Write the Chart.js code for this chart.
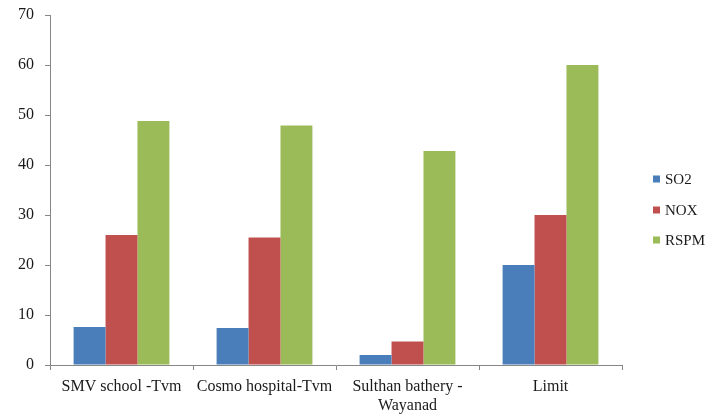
<!DOCTYPE html>
<html>
<head>
<meta charset="utf-8">
<script src="https://cdn.jsdelivr.net/npm/chart.js@4/dist/chart.umd.min.js"></script>
<style>
  html, body { margin: 0; padding: 0; background: #ffffff; }
  #wrap { width: 706px; height: 416px; }
</style>
</head>
<body>
<div id="wrap"><canvas id="c" width="706" height="416"></canvas></div>
<script>
// Sampling sites and measured concentrations
const sites = ['SMV school -Tvm', 'Cosmo hospital-Tvm', ['Sulthan bathery -', 'Wayanad'], 'Limit'];
const so2  = [7.6, 7.4, 2.0, 20];
const nox  = [26, 25.5, 4.7, 30];
const rspm = [48.8, 47.9, 42.8, 60];
const seriesNames = ['SO2', 'NOX', 'RSPM'];
const seriesColors = ['#4A7EBB', '#C0504D', '#9BBB59'];

const axisColor = '#868686';
const textColor = '#1a1a1a';
const fontFamily = '"Liberation Serif", "Times New Roman", serif';

// Legend on the right, drawn as small square swatches with labels
const sideLegend = {
  id: 'sideLegend',
  afterDraw(chart) {
    const ctx = chart.ctx;
    ctx.save();
    ctx.font = '15px ' + fontFamily;
    ctx.textBaseline = 'middle';
    ctx.textAlign = 'left';
    const ys = [179, 210, 240];
    chart.data.datasets.forEach((ds, i) => {
      const y = ys[i];
      ctx.fillStyle = ds.backgroundColor;
      ctx.fillRect(653, y - 3.5, 7, 7);
      ctx.fillStyle = textColor;
      ctx.fillText(ds.label, 665, y + 1);
    });
    ctx.restore();
  }
};

new Chart(document.getElementById('c'), {
  type: 'bar',
  data: {
    labels: sites,
    datasets: [
      { label: seriesNames[0], data: so2,  backgroundColor: seriesColors[0] },
      { label: seriesNames[1], data: nox,  backgroundColor: seriesColors[1] },
      { label: seriesNames[2], data: rspm, backgroundColor: seriesColors[2] }
    ]
  },
  options: {
    responsive: false,
    animation: false,
    devicePixelRatio: 1,
    layout: { padding: { top: 15, right: 84, left: 0, bottom: 0 } },
    datasets: { bar: { categoryPercentage: 0.67, barPercentage: 1.0, borderWidth: 0 } },
    plugins: {
      legend: { display: false },
      tooltip: { enabled: false }
    },
    scales: {
      x: {
        grid: { drawOnChartArea: false, drawTicks: true, tickLength: 5, color: axisColor, offset: true },
        border: { color: axisColor, width: 1 },
        ticks: { color: textColor, font: { family: fontFamily, size: 16, lineHeight: 1.15 }, padding: 8, maxRotation: 0, autoSkip: false },
        afterFit(scale) { scale.height = 51; scale.paddingLeft = 0; scale.paddingRight = 0; }
      },
      y: {
        min: 0, max: 70,
        grid: { drawOnChartArea: false, drawTicks: true, tickLength: 5, color: axisColor },
        border: { color: axisColor, width: 1 },
        ticks: { stepSize: 10, color: textColor, font: { family: fontFamily, size: 16 }, padding: 11 },
        afterFit(scale) { scale.width = 50; scale.paddingTop = 0; scale.paddingBottom = 0; }
      }
    }
  },
  plugins: [sideLegend]
});
</script>
</body>
</html>
